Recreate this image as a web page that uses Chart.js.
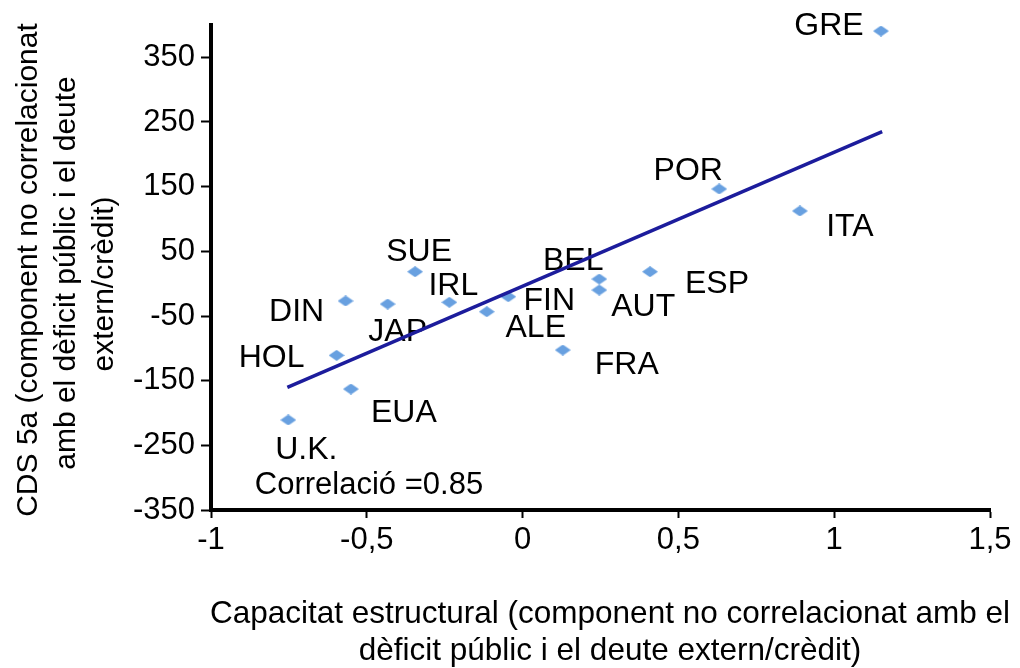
<!DOCTYPE html>
<html><head><meta charset="utf-8">
<script src="https://cdn.jsdelivr.net/npm/chart.js@4.4.1/dist/chart.umd.min.js"></script>
<style>html,body{margin:0;padding:0;background:#fff;} canvas{display:block;}</style>
</head><body>
<canvas id="c" width="1020" height="668"></canvas>
<script>
// ---- data ----
const countries = ['GRE','POR','ITA','ESP','BEL','AUT','FIN','ALE','FRA','SUE','IRL','JAP','DIN','HOL','EUA','U.K.'];
const capacitat = [1.150, 0.631, 0.890, 0.409, 0.246, 0.246, -0.046, -0.115, 0.129, -0.345, -0.235, -0.433, -0.568, -0.597, -0.551, -0.752];
const cds = [390.7, 146.4, 112.4, 18.5, 7.2, -9.8, -20.2, -43.4, -102.6, 18.5, -28.8, -31.5, -26.8, -110.8, -162.9, -210.8];
const trendX = [-0.755, 1.154];
const trendY = [-160.3, 235];
const xTicks = [-1, -0.5, 0, 0.5, 1, 1.5];
const xTickLabels = ['-1', '-0,5', '0', '0,5', '1', '1,5'];
const yTicks = [-350, -250, -150, -50, 50, 150, 250, 350];
const yTickLabels = ['-350', '-250', '-150', '-50', '50', '150', '250', '350'];
const correlationText = 'Correlació =0.85';
const xTitle = ['Capacitat estructural (component no correlacionat amb el', 'dèficit públic i el deute extern/crèdit)'];
const yTitle = ['CDS 5a (component no correlacionat', 'amb el dèficit públic i el deute', 'extern/crèdit)'];

// ---- label placement (pixel offsets from each marker) ----
const labelOffsets = {
  'GRE': [-52, -5], 'POR': [-31, -18], 'ITA': [50, 16], 'ESP': [67, 12],
  'BEL': [-26, -18], 'AUT': [44, 17], 'FIN': [41, 4], 'ALE': [49, 16],
  'FRA': [64, 15], 'SUE': [4, -20], 'IRL': [4, -16], 'JAP': [10, 28],
  'DIN': [-49, 11], 'HOL': [-65, 3], 'EUA': [53, 24], 'U.K.': [18, 30]
};

const FONT = '"Liberation Sans", Arial, Helvetica, sans-serif';

function makeDiamond(w, h, color) {
  const c = document.createElement('canvas');
  c.width = w; c.height = h;
  const g = c.getContext('2d');
  g.fillStyle = color;
  g.beginPath();
  g.moveTo(w / 2, 0); g.lineTo(w, h / 2); g.lineTo(w / 2, h); g.lineTo(0, h / 2);
  g.closePath(); g.fill();
  return c;
}
const diamond = makeDiamond(16, 11, '#68A0E0');

const textPlugin = {
  id: 'texts',
  beforeDatasetsDraw(chart) {
    const ctx = chart.ctx, xs = chart.scales.x, ys = chart.scales.y, ca = chart.chartArea;
    ctx.save();
    ctx.fillStyle = '#000';
    ctx.textAlign = 'center';
    ctx.textBaseline = 'middle';
    ctx.font = '32px ' + FONT;
    countries.forEach((n, i) => {
      const o = labelOffsets[n];
      ctx.fillText(n, xs.getPixelForValue(capacitat[i]) + o[0], ys.getPixelForValue(cds[i]) + o[1]);
    });
    ctx.font = '31px ' + FONT;
    ctx.fillText(correlationText, ca.left + 158, ca.bottom - 25);
    ctx.restore();
  },
  afterDraw(chart) {
    const ctx = chart.ctx, ca = chart.chartArea;
    ctx.save();
    ctx.fillStyle = '#000';
    ctx.textAlign = 'center';
    ctx.textBaseline = 'middle';
    ctx.font = '31.5px ' + FONT;
    ctx.fillText(xTitle[0], ca.left + 399, ca.bottom + 104);
    ctx.fillText(xTitle[1], ca.left + 399, ca.bottom + 141);
    ctx.font = '30px ' + FONT;
    const cys = [270, 273, 284];
    const xs = [29, 67, 105];
    yTitle.forEach((t, i) => {
      ctx.save();
      ctx.translate(xs[i], cys[i]);
      ctx.rotate(-Math.PI / 2);
      ctx.fillText(t, 0, 0);
      ctx.restore();
    });
    ctx.restore();
  }
};

new Chart(document.getElementById('c'), {
  type: 'scatter',
  data: {
    datasets: [
      {
        type: 'line',
        data: trendX.map((x, i) => ({ x: x, y: trendY[i] })),
        borderColor: '#1C1C9C',
        borderWidth: 3.5,
        pointRadius: 0,
        fill: false,
        showLine: true
      },
      {
        data: capacitat.map((x, i) => ({ x: x, y: cds[i] })),
        pointStyle: diamond,
        pointRadius: 8,
        backgroundColor: '#68A0E0',
        borderWidth: 0
      }
    ]
  },
  options: {
    responsive: false,
    animation: false,
    devicePixelRatio: 1,
    layout: { padding: { left: 0, top: 25, right: 30, bottom: 0 } },
    plugins: { legend: { display: false }, tooltip: { enabled: false } },
    scales: {
      x: {
        type: 'linear', min: -1, max: 1.5,
        afterBuildTicks: s => { s.ticks = xTicks.map(v => ({ value: v })); },
        afterFit: s => { s.height = 158; },
        ticks: {
          autoSkip: false, maxRotation: 0, padding: 4, color: '#000',
          font: { family: FONT, size: 31 },
          callback: (v, i) => xTickLabels[i]
        },
        grid: { display: true, drawOnChartArea: false, drawTicks: true, tickLength: 8, tickWidth: 2, tickColor: '#000' },
        border: { display: true, color: '#000', width: 4 }
      },
      y: {
        type: 'linear', min: -350, max: 400,
        afterBuildTicks: s => { s.ticks = yTicks.map(v => ({ value: v })); },
        afterFit: s => { s.width = 211; },
        ticks: {
          autoSkip: false, padding: 6, color: '#000',
          font: { family: FONT, size: 31 },
          callback: (v, i) => yTickLabels[i]
        },
        grid: { display: true, drawOnChartArea: false, drawTicks: true, tickLength: 10, tickWidth: 2, tickColor: '#000' },
        border: { display: true, color: '#000', width: 4 }
      }
    }
  },
  plugins: [textPlugin]
});
</script>
</body></html>
